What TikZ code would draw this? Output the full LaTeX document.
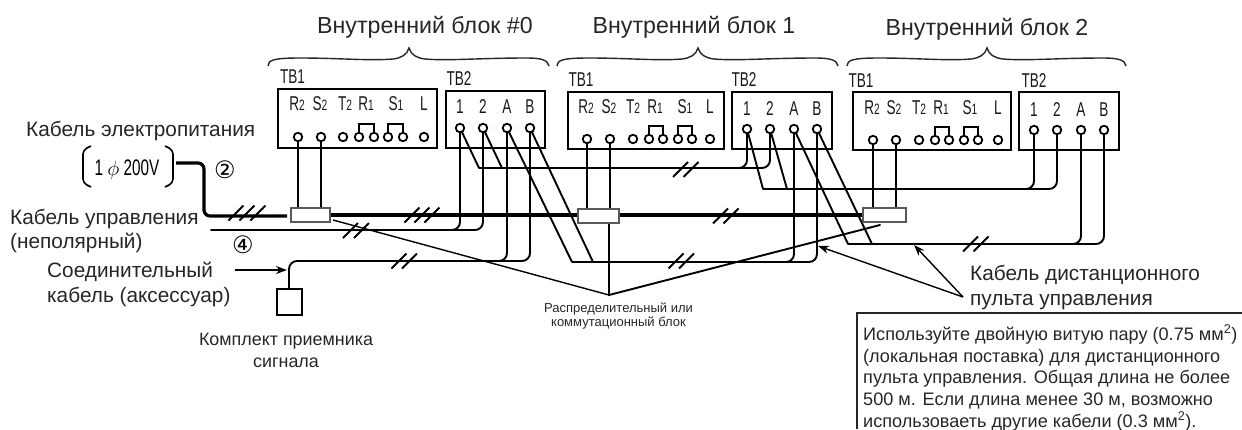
\documentclass[tikz,border=0pt]{standalone}
\usepackage{fontspec}
\setmainfont{Liberation Sans}
\newfontfamily\narrowf[FakeStretch=0.68]{Liberation Sans}
\newfontfamily\dejavu{DejaVu Sans}
\usetikzlibrary{arrows.meta}
\newcommand{\px}[1]{\fontsize{#1}{#1}\selectfont}
\newcommand{\Rr}[2]{#1{\px{15}#2}}
\tikzset{
  x=1pt,y=-1pt,
  wire/.style={line width=1.9pt,black,line cap=round},
  thin wire/.style={line width=1.4pt,black},
  heavy/.style={line width=3.2pt,black},
  boxs/.style={draw=black,line width=2.2pt,fill=white},
  term/.style={circle,draw=black,line width=1.8pt,fill=white,minimum size=8.5pt,inner sep=0},
  distbox/.style={draw=black!65,line width=1.1pt,fill=white},
  slash/.style={line width=1.8pt,black},
  brace/.style={line width=1.4pt,black!85},
  ttl/.style={font=\px{23.2},anchor=base,inner sep=0,text=black!85},
  lbl/.style={font=\px{20.8},anchor=base west,inner sep=0,text=black!85},
  mid/.style={font=\px{17.9},anchor=base,inner sep=0,text=black!85},
  note/.style={font=\px{18.1},anchor=base west,inner sep=0,text=black!85},
  tiny/.style={font=\px{13},anchor=base,inner sep=0,text=black!85},
  nar/.style={font=\narrowf\px{20},anchor=base,inner sep=0,text=black!90},
  ptr/.style={line width=1.4pt,black,-{Stealth[length=11pt,width=8pt]}},
  jump/.style={line width=1.7pt,black},
  paren/.style={line width=1.6pt,black,rounded corners=4pt},
}
\newcommand{\ubrace}[3]{% x0, xm, x1
  \draw[brace] (#1,66) .. controls (#1,60) and (#1+6,58) .. (#1+32,58)
    .. controls (#2-70,58) and (#2-40,61) .. (#2-16,59)
    .. controls (#2-8,58) and (#2-2,55) .. (#2,48)
    .. controls (#2+2,55) and (#2+8,58) .. (#2+16,59)
    .. controls (#2+40,61) and (#3-70,58) .. (#3-22,58)
    .. controls (#3-8,58) and (#3-1,60) .. (#3,66);
}
\newcommand{\slashes}[3]{% first x centre, y, spacing ; two
  \foreach \k in {0,1}{\draw[slash] (#1+\k*#3-7.5,#2+7.5) -- (#1+\k*#3+7.5,#2-7.5);}
}
\begin{document}
\begin{tikzpicture}
\useasboundingbox (0,0) rectangle (1242,429);
% titles
\node[ttl] (t0) at (425,33) {Внутренний блок \#0};
\node[ttl] (t1) at (694,33) {Внутренний блок 1};
\node[ttl] (t2) at (987,35) {Внутренний блок 2};
\ubrace{268}{409}{549}
\ubrace{557}{698}{838}
\ubrace{847}{987}{1126}
% terminal boxes
\draw[boxs] (278,89) rectangle (437,148);
\draw[boxs] (446,91) rectangle (545,148);
\draw[boxs] (568,92) rectangle (724,149);
\draw[boxs] (732,92) rectangle (832,149);
\draw[boxs] (853,92) rectangle (1011,150);
\draw[boxs] (1019,92) rectangle (1119,150);
% TB labels
\node[nar] at (292.5,83) {TB1};
\node[nar] at (459,85) {TB2};
\node[nar] at (581,86) {TB1};
\node[nar] at (744,86) {TB2};
\node[nar] at (861,87) {TB1};
\node[nar] at (1034,87) {TB2};
% bus lines under
\draw[heavy,rounded corners=6pt] (176,163) -- (204,163) -- (204,216) -- (287,216);
\draw[heavy] (330,215) -- (578,215);
\draw[heavy] (619,215) -- (863,215);
% control wire block 0
\draw[wire,rounded corners=8pt] (211,230) -- (483,230) -- (483,128);
\draw[wire,rounded corners=8pt] (400,230) -- (460,230) -- (460,128);
% receiver wire
\draw[wire,rounded corners=8pt] (289,289) -- (289,261) -- (530,261) -- (530,128);
\draw[wire,rounded corners=8pt] (440,261) -- (507,261) -- (507,128);
% 1,2 to next
\draw[wire,rounded corners=1pt] (460,128) -- (479,168) -- (502,168) -- (483,128);
\draw[wire,rounded corners=8pt] (479,168) -- (770,168) -- (770,129);
\draw[wire,rounded corners=8pt] (700,168) -- (747,168) -- (747,129);
% A,B to next
\draw[wire,rounded corners=1pt] (507,128) -- (572,262) -- (593,262) -- (530,128);
\draw[wire,rounded corners=8pt] (572,262) -- (817,262) -- (817,129);
\draw[wire,rounded corners=8pt] (740,262) -- (794,262) -- (794,129);
% block 1 1,2
\draw[wire,rounded corners=1pt] (747,129) -- (763,189) -- (787,189) -- (770,129);
\draw[wire,rounded corners=8pt] (763,189) -- (1057,189) -- (1057,130);
\draw[wire,rounded corners=8pt] (980,189) -- (1034,189) -- (1034,130);
% block 1 A,B
\draw[wire,rounded corners=1pt] (794,129) -- (848,244) -- (872,244) -- (817,129);
\draw[wire,rounded corners=8pt] (848,244) -- (1104,244) -- (1104,130);
\draw[wire,rounded corners=8pt] (1030,244) -- (1081,244) -- (1081,130);
% distribution blocks
\coordinate (apex) at (609,295);
\draw[thin wire] (333,220) -- (apex);
\draw[wire] (609,223) -- (apex) -- (880,225);
\draw[wire] (298,137) -- (298,208);
\draw[wire] (321,137) -- (321,208);
\draw[wire] (587,139) -- (587,209);
\draw[wire] (610,139) -- (610,209);
\draw[wire] (873,140) -- (873,208);
\draw[wire] (896,140) -- (896,208);
\node[distbox,minimum width=39pt,minimum height=14pt,inner sep=0] (d0) at (310.5,215) {};
\node[distbox,minimum width=41pt,minimum height=14pt,inner sep=0] (d1) at (598.5,216) {};
\node[distbox,minimum width=43pt,minimum height=14pt,inner sep=0] (d2) at (884.5,215) {};
% slashes
\foreach \x in {236,247,258}{\draw[slash] (\x-7.5,220.5) -- (\x+7.5,205.5);}
\foreach \x in {412,422,432}{\draw[slash] (\x-7.5,222.5) -- (\x+7.5,207.5);}
\slashes{350.5}{230.5}{11}
\slashes{399}{261}{10.5}
\slashes{680.5}{169.5}{10.5}
\slashes{720.5}{216}{10.5}
\slashes{676}{261}{10.5}
\slashes{970.5}{244}{10.5}
% terminals
\foreach \x in {298,321,343,359,374,388,403,424}{\node[term] at (\x,137) {};}
\foreach \x in {460,483,507,530}{\node[term] at (\x,128) {};}
\foreach \x in {587,610,633,649,663,678,692,710}{\node[term] at (\x,139) {};}
\foreach \x in {747,770,794,817}{\node[term] at (\x,129) {};}
\foreach \x in {873,896,919,935,949,964,978,998}{\node[term] at (\x,140) {};}
\foreach \x in {1034,1057,1081,1104}{\node[term] at (\x,130) {};}
% jumpers
\draw[jump] (359,132) -- (359,124) -- (374,124) -- (374,132);
\draw[jump] (388,132) -- (388,124) -- (403,124) -- (403,132);
\draw[jump] (649,134) -- (649,126) -- (663,126) -- (663,134);
\draw[jump] (678,134) -- (678,126) -- (692,126) -- (692,134);
\draw[jump] (935,135) -- (935,127) -- (949,127) -- (949,135);
\draw[jump] (964,135) -- (964,127) -- (978,127) -- (978,135);
% terminal labels
\node[nar] at (297,110) {\Rr{R}{2}};
\node[nar] at (320,110) {\Rr{S}{2}};
\node[nar] at (345,110) {\Rr{T}{2}};
\node[nar] at (366,110) {\Rr{R}{1}};
\node[nar] at (396,110) {\Rr{S}{1}};
\node[nar] at (424,110) {L};
\node[nar] at (460,113) {1};
\node[nar] at (483,113) {2};
\node[nar] at (507,113) {A};
\node[nar] at (530,113) {B};
\node[nar] at (586,113) {\Rr{R}{2}};
\node[nar] at (609,113) {\Rr{S}{2}};
\node[nar] at (633,113) {\Rr{T}{2}};
\node[nar] at (655,113) {\Rr{R}{1}};
\node[nar] at (685,113) {\Rr{S}{1}};
\node[nar] at (710,113) {L};
\node[nar] at (747,115) {1};
\node[nar] at (770,115) {2};
\node[nar] at (794,115) {A};
\node[nar] at (817,115) {B};
\node[nar] at (872,114) {\Rr{R}{2}};
\node[nar] at (894,114) {\Rr{S}{2}};
\node[nar] at (919,114) {\Rr{T}{2}};
\node[nar] at (941,114) {\Rr{R}{1}};
\node[nar] at (970,114) {\Rr{S}{1}};
\node[nar] at (998,114) {L};
\node[nar] at (1034,116) {1};
\node[nar] at (1057,116) {2};
\node[nar] at (1081,116) {A};
\node[nar] at (1104,116) {B};
% power source
\draw[paren] (91,146) -- (83,150) -- (83,183) -- (91,187);
\draw[paren] (165,146) -- (173,150) -- (173,183) -- (165,187);
\node[font=\narrowf\px{22.5},anchor=base,inner sep=0] (pw) at (127,175) {1 $\phi$ 200V};
\node[font=\dejavu\px{24},inner sep=0] (n2) at (225,170) {②};
\node[font=\dejavu\px{24},inner sep=0] (n4) at (243,245) {④};
% left labels
\node[lbl] at (26,136) {Кабель электропитания};
\node[lbl] at (10,224) {Кабель управления};
\node[lbl] at (10,248) {(неполярный)};
\node[lbl] at (47,277) {Соединительный};
\node[lbl] at (47,302) {кабель (аксессуар)};
\node[mid] at (286,345) {Комплект приемника};
\node[mid] at (286,367) {сигнала};
\node[tiny] at (618.5,312) {Распределительный или};
\node[tiny] at (618.5,326) {коммутационный блок};
\node[lbl] (rc) at (970,280) {Кабель дистанционного};
\node[lbl] at (970,305) {пульта управления};
% receiver box
\draw[line width=2.2pt,fill=white] (277,289) rectangle (302,315);
\coordinate (arw) at (235,270);
\coordinate (arwe) at (287,270);
\draw[ptr] (arw) -- (arwe);
% remote pointers
\coordinate (pa) at (963,297);
\coordinate (p1) at (818,246);
\coordinate (p2) at (914,245);
\draw[ptr] (pa) -- (p1);
\draw[ptr] (pa) -- (p2);
% note box
\draw[line width=1.5pt,black!85] (857,429) -- (857,313) -- (1242,313);
\node[note] at (863,340) {Используйте двойную витую пару (0.75 мм\textsuperscript{2})};
\node[note] at (863,362) {(локальная поставка) для дистанционного};
\node[note] at (863,383) {пульта управления. Общая длина не более};
\node[note] at (863,405) {500 м. Если длина менее 30 м, возможно};
\node[note] at (863,427) {использоваеть другие кабели (0.3 мм\textsuperscript{2}).};
\end{tikzpicture}
\end{document}
